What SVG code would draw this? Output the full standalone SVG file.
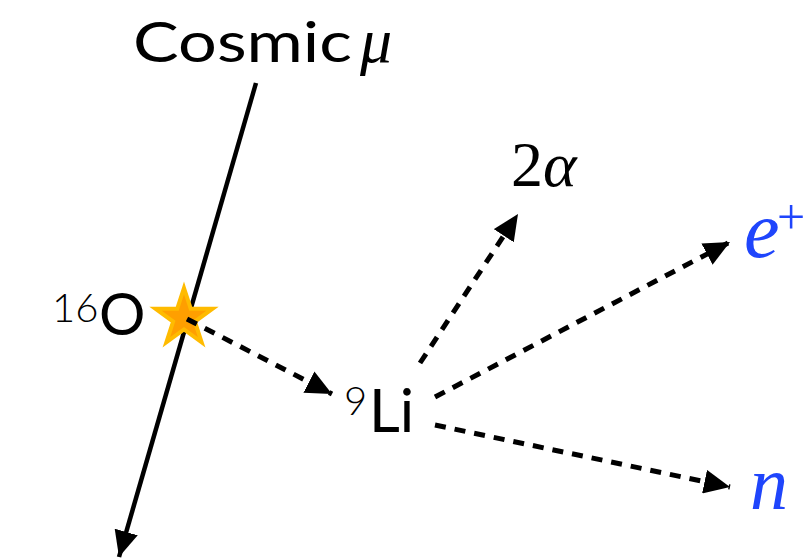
<svg xmlns="http://www.w3.org/2000/svg" width="809" height="560" viewBox="0 0 809 560">
<defs>
<style>
.sans{font-family:Lato,"Liberation Sans",sans-serif;fill:#000}
.serif{font-family:"Liberation Serif","Times New Roman",serif;fill:#000}
.it{font-style:italic}
.blue{fill:#1f45fc}
.dash{stroke:#000;stroke-width:5;stroke-dasharray:11 9;fill:none}
.solid{stroke:#000;stroke-width:4.5;fill:none}
</style>
<marker id="ah" markerUnits="userSpaceOnUse" viewBox="0 0 26 24" markerWidth="26" markerHeight="24" refX="26" refY="12" orient="auto">
<path d="M0,0 L26,12 L0,24 Z" fill="#000"/>
</marker>
</defs>
<g id="connectors">
<line class="solid" x1="256" y1="83" x2="119" y2="557" marker-end="url(#ah)"/>
</g>
<g id="star">
<polygon points="184,288 190.73,308.73 212.53,308.73 194.9,321.54 201.63,342.27 184,329.46 166.37,342.27 173.1,321.54 155.47,308.73 177.27,308.73" fill="#ff9f00" stroke="#ffbb00" stroke-width="4" stroke-linejoin="miter"/>
</g>
<g id="connectors-dashed">
<line class="dash" x1="187" y1="319" x2="332" y2="394" marker-end="url(#ah)"/>
<line class="dash" x1="420" y1="363" x2="518" y2="214" marker-end="url(#ah)"/>
<line class="dash" x1="435" y1="397" x2="730" y2="242" marker-end="url(#ah)"/>
<line class="dash" x1="435" y1="425" x2="730" y2="487" marker-end="url(#ah)"/>
</g>
<g id="muon-label">
<text class="sans" x="133" y="62" font-size="56" textLength="219" lengthAdjust="spacingAndGlyphs">Cosmic</text>
<text class="serif it" x="360" y="62" font-size="64">μ</text>
</g>
<g id="O16">
<text class="sans" x="52" y="322" font-size="40" font-weight="300">16</text>
<text class="sans" x="99" y="335" font-size="58">O</text>
</g>
<g id="Li9">
<text class="sans" x="344" y="415" font-size="40" font-weight="300">9</text>
<text class="sans" x="369" y="432" font-size="60">Li</text>
</g>
<g id="alpha">
<text class="serif" x="511" y="186" font-size="64">2<tspan class="it">α</tspan></text>
</g>
<g id="positron">
<text class="serif it blue" x="744" y="257" font-size="80">e</text>
<text class="serif blue" x="777" y="234" font-size="50">+</text>
</g>
<g id="neutron">
<text class="serif it blue" x="750" y="509" font-size="76">n</text>
</g>
</svg>
